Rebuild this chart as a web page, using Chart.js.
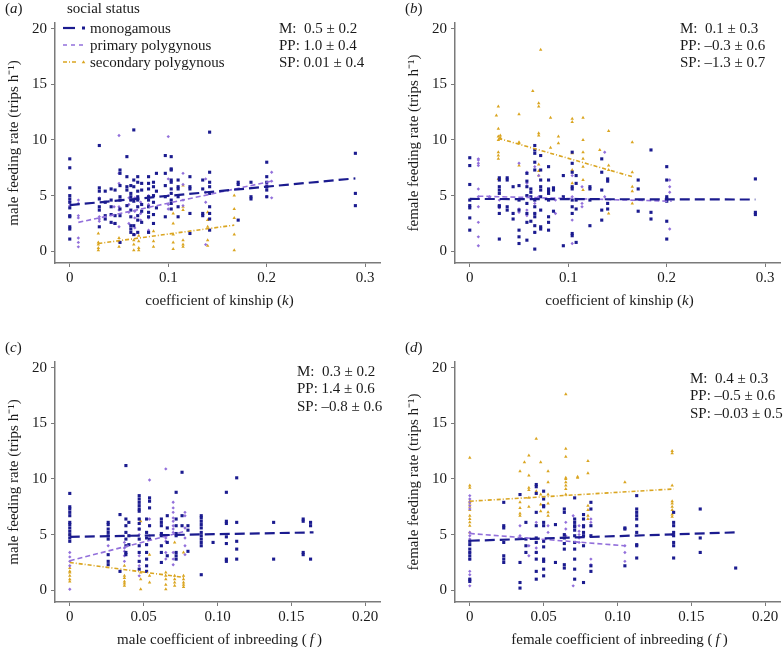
<!DOCTYPE html>
<html><head><meta charset="utf-8">
<script src="https://cdn.jsdelivr.net/npm/chart.js@4.4.1/dist/chart.umd.min.js"></script>
<style>
body{margin:0;width:784px;height:647px;position:relative;background:#fff;font-family:"Liberation Serif","Times New Roman",serif;color:#1a1a1a;overflow:hidden}
canvas{position:absolute}
.t{position:absolute;font-size:15px;line-height:17px;white-space:nowrap}
.c{transform:translateX(-50%)}
svg{position:absolute;left:0;top:0}
</style></head><body>
<canvas id="pa" width="384" height="323" style="left:0;top:0"></canvas>
<canvas id="pb" width="384" height="323" style="left:400px;top:0"></canvas>
<canvas id="pc" width="384" height="323" style="left:0;top:339px"></canvas>
<canvas id="pd" width="384" height="323" style="left:400px;top:339px"></canvas>

<div class="t" style="left:5px;top:0px">(<i>a</i>)</div>
<div class="t" style="left:405px;top:0px">(<i>b</i>)</div>
<div class="t" style="left:5px;top:339px">(<i>c</i>)</div>
<div class="t" style="left:405px;top:339px">(<i>d</i>)</div>

<div class="t" style="left:67px;top:0px">social status</div>
<svg width="100" height="80">
  <line x1="63" y1="28" x2="75" y2="28" stroke="#1b1b8f" stroke-width="2.2"/>
  <rect x="82" y="26.5" width="3" height="3" fill="#1b1b8f"/>
  <line x1="63" y1="45" x2="85" y2="45" stroke="#9370DB" stroke-width="1.5" stroke-dasharray="4,4"/>
  <line x1="63" y1="62" x2="78" y2="62" stroke="#DAA520" stroke-width="1.5" stroke-dasharray="4,2,1,2"/>
  <polygon points="83.5,60.3 85.3,63.2 81.7,63.2" fill="#DAA520"/>
</svg>
<div class="t" style="left:90px;top:19.5px">monogamous</div>
<div class="t" style="left:90px;top:36.5px">primary polygynous</div>
<div class="t" style="left:90px;top:53.5px">secondary polygynous</div>

<div class="t" style="left:279px;top:19.5px">M:&nbsp; 0.5 ± 0.2</div>
<div class="t" style="left:279px;top:36.5px">PP: 1.0 ± 0.4</div>
<div class="t" style="left:279px;top:53.5px">SP: 0.01 ± 0.4</div>

<div class="t" style="left:680px;top:19.5px">M:&nbsp; 0.1 ± 0.3</div>
<div class="t" style="left:680px;top:36.5px">PP: –0.3 ± 0.6</div>
<div class="t" style="left:680px;top:53.5px">SP: –1.3 ± 0.7</div>

<div class="t" style="left:297px;top:362.5px">M:&nbsp; 0.3 ± 0.2</div>
<div class="t" style="left:297px;top:379.5px">PP: 1.4 ± 0.6</div>
<div class="t" style="left:297px;top:397.5px">SP: –0.8 ± 0.6</div>

<div class="t" style="left:690px;top:369.5px">M:&nbsp; 0.4 ± 0.3</div>
<div class="t" style="left:690px;top:386.5px">PP: –0.5 ± 0.6</div>
<div class="t" style="left:690px;top:404.5px">SP: –0.03 ± 0.5</div>

<div class="t c" style="left:219.5px;top:291.5px">coefficient of kinship (<i>k</i>)</div>
<div class="t c" style="left:619.5px;top:291.5px">coefficient of kinship (<i>k</i>)</div>
<div class="t c" style="left:219.5px;top:630.5px">male coefficient of inbreeding (&#8201;<i>f</i>&#8201;)</div>
<div class="t c" style="left:619.5px;top:630.5px">female coefficient of inbreeding (&#8201;<i>f</i>&#8201;)</div>

<script>
// ---- tick values / labels ----
const kinTicks = [0, 0.1, 0.2, 0.3];
const kinTickLabels = ['0', '0.1', '0.2', '0.3'];
const inbTicks = [0, 0.05, 0.10, 0.15, 0.20];
const inbTickLabels = ['0', '0.05', '0.10', '0.15', '0.20'];
const rateTicks = [0, 5, 10, 15, 20];
const rateTickLabels = ['0', '5', '10', '15', '20'];
const seriesNames = ['monogamous', 'primary polygynous', 'secondary polygynous'];

// ---- (a) male feeding rate vs kinship: [x, [y values]] ----
const aMono = [[0,[8.3,7.5,5.7,5.0,4.7,4.4,3.9,3.2,3.1,2.2,2.0,1.1]],[0.03,[9.5,5.7,5.4,4.7,4.0,3.7,2.2]],[0.036,[5.4,4.4,3.2,2.9]],[0.042,[5.6,4.6,3.3,2.6,4.0]],[0.046,[5.5,3.2,2.5]],[0.051,[7.3,7.0,5.9,4.9,4.6,3.8,3.2,0.8]],[0.058,[8.5,6.7,5.8,5.5,4.1]],[0.062,[5.2,4.9,4.6,3.7,3.1,2.3,2.0,1.7,5.9]],[0.065,[10.9,6.4,5.8,4.5,2.3,1.5]],[0.069,[6.7,6.2,5.4,4.9,4.6,4.0,3.2,2.8,1.7]],[0.073,[6.1,5.5,4.2,3.6,2.6]],[0.08,[6.7,6.1,5.6,4.9,4.6,4.0,3.5,3.1,1.7]],[0.085,[6.2,5.8,5.0,4.4,3.3,2.5]],[0.088,[7.0,5.4,3.9]],[0.097,[8.6,7.0,5.9,4.9,3.1]],[0.103,[8.5,7.4,7.3,6.4,6.2,5.6,5.2,4.6,4.3,3.8]],[0.11,[6.4,5.8,5.6,4.9,4.0,3.1]],[0.122,[6.7,5.8,5.6,3.4,1.6]],[0.135,[6.4,5.6,3.4,3.2]],[0.142,[10.7,7.1,6.2,5.8,5.2,4.0,3.4,2.9,1.9]],[0.171,[6.2,6.0,2.8]],[0.184,[6.2,4.9,4.7]],[0.2,[8.0,6.7,6.2,5.8,5.5,4.9]],[0.29,[8.8,5.2,4.1]]];
const aPrim = [[0,[4.5,4.1]],[0.0087,[4.6,4.3,3.2,3.0,1.2,0.8,0.4]],[0.03,[4.8,3.1,2.9,2.7]],[0.045,[4.0,2.5]],[0.05,[10.4,7.0,6.1,4.0,3.7,2.2]],[0.06,[4.8,4.2,3.5,2.5]],[0.066,[4.8,3.6,3.0,2.1,1.5]],[0.072,[4.4,3.4,2.8]],[0.08,[5.0,4.2,3.0,1.9]],[0.1,[10.3,6.5,5.0,4.2,3.8]],[0.115,[7.0,6.0,4.6,4.1]],[0.138,[6.5,5.3,4.4,0.6]],[0.2,[6.0,5.7,4.9]],[0.205,[7.1,6.3,4.8]]];
const aSec = [[0.029,[1.6,0.8,0.6,0.3,0.1]],[0.05,[1.2,0.9,0.4]],[0.065,[1.5,1.0,0.6,0.1]],[0.07,[1.4,0.9,0.3,0.1]],[0.085,[1.8,0.9,0.4]],[0.105,[3.4,2.5,1.5,0.8,0.2]],[0.115,[5.9,4.0,3.7,1.0,0.6,0.4]],[0.14,[3.5,2.8,2.2,1.0,0.5]],[0.167,[5.0,3.8,3.0,1.5,0.1]]];
const aFit = [[[0,4.15],[0.29,6.55]],[[0.0087,2.6],[0.205,6.3]],[[0.029,0.7],[0.167,2.35]]];

// ---- (b) female feeding rate vs kinship ----
const bMono = [[0,[8.4,7.7,6.0,4.6,4.1,3.9,3.0,1.9]],[0.03,[6.6,6.4,5.8,5.5,5.2,4.1,4.0,3.4,1.1]],[0.038,[6.6,6.4,4.0,3.7]],[0.044,[5.8,3.4,2.9]],[0.05,[5.9,4.6,3.7,1.9,1.3,0.7]],[0.058,[7.0,6.3,5.8,5.0,4.3,3.4,2.6,1.0]],[0.062,[5.6,5.3,4.9,2.7]],[0.066,[9.5,9.1,8.8,8.0,7.3,4.6,4.0,3.4,3.1,2.3,1.7,0.2]],[0.072,[8.6,7.3,6.4,5.8,5.5,4.9,3.7,2.2,2.0]],[0.08,[7.6,6.4,5.6,5.4,5.2,4.6,3.1,2.6,1.9]],[0.085,[5.7,5.5,3.6]],[0.095,[6.8,4.9,0.5]],[0.104,[8.9,7.9,7.1,5.8,5.6,4.6,4.0,3.4,1.6,1.4]],[0.108,[6.8,6.1,4.6,3.8,0.8]],[0.122,[5.8,5.6,4.6,2.3]],[0.134,[8.3,7.1,5.5,3.7,2.8]],[0.14,[6.5,6.3,4.3,3.8]],[0.171,[6.4,5.6,3.6]],[0.184,[9.1,3.5,2.9]],[0.2,[7.6,6.4,4.9,4.7,4.5,2.7,1.1]],[0.29,[6.5,3.5,3.3]]];
const bPrim = [[0.0087,[8.3,8.2,7.9,7.7,5.6,4.9,4.0,2.6,1.3,0.5]],[0.02,[4.9,4.8]],[0.03,[4.6,3.9]],[0.05,[7.9,3.8,3.5]],[0.058,[7.1,6.1,5.0,3.7,3.2]],[0.066,[7.6,4.3,3.4,1.7]],[0.07,[6.8,4.9]],[0.087,[4.6,3.4]],[0.104,[6.8,4.9,2.8,0.7]],[0.114,[5.8,4.3,4.0]],[0.137,[8.9,4.9]],[0.203,[6.4,5.8,5.3,2.0]]];
const bSec = [[0.027,[12.2]],[0.029,[13.0,11.0,10.3,10.0,8.9,8.6,8.3,6.5]],[0.031,[10.4,10.2,10.1]],[0.05,[12.3,9.8,9.7,7.7]],[0.064,[14.4]],[0.07,[13.3,13.0,10.6,10.4,7.8,7.2,6.8]],[0.072,[18.1]],[0.082,[12.0,9.3]],[0.09,[10.3,9.7]],[0.104,[11.9,11.6,8.8,7.3,6.1]],[0.115,[12.0,10.0,8.9,8.3,7.6,6.4,5.5]],[0.132,[9.1]],[0.141,[10.8,7.7,7.3,3.4]],[0.165,[9.8,7.1,5.8,5.4,4.3]]];
const bFit = [[[0,4.7],[0.29,4.65]],[[0.0087,4.95],[0.205,4.5]],[[0.029,10.15],[0.165,6.7]]];

// ---- (c) male feeding rate vs male inbreeding ----
const cMono = [[0,[8.7,7.5,7.3,7.0,6.7,6.1,5.9,5.6,5.3,5.0,4.7,4.4]],[0.026,[6.1,5.9,5.5,5.2,4.9,4.6,3.2,2.6,2.3]],[0.034,[6.8,1.7]],[0.038,[11.2,6.4,5.8,5.2,4.6,4.0,3.4,3.2]],[0.04,[6.1,4.9,4.1]],[0.047,[8.5,8.2,7.9,7.6,7.3,7.1,6.4,6.0,5.5,4.6,4.0,3.4,2.6,1.9]],[0.052,[6.4,5.2,4.7,4.1,3.4,2.8,2.2,1.7]],[0.054,[8.3,8.0,7.4,5.8,4.6]],[0.062,[6.4,6.1,5.8,5.1,4.9,4.0,3.4,2.5]],[0.066,[6.7,5.6,4.3,3.1]],[0.072,[8.8,6.4,5.8,5.1,4.9,3.4,3.1,2.8]],[0.076,[10.6,6.7,5.8]],[0.08,[5.8,5.4,3.5]],[0.089,[6.7,6.5,6.2,5.9,5.6,5.2,4.9,4.6,4.3,4.0,1.4]],[0.097,[4.3]],[0.106,[8.8,6.2,6.0,4.8,4.2,2.8,2.6]],[0.113,[10.1,6.1,4.4,3.7,2.8]],[0.138,[6.1,2.8]],[0.158,[6.4,6.2,3.4,3.2]],[0.163,[6.1,5.8,2.8]]];
const cPrim = [[0,[3.4,3.0,2.6,2.2,0.1]],[0.026,[4.0]],[0.037,[4.3,3.8,3.5,3.1,2.6]],[0.047,[6.4,5.5,5.0,3.1,2.2,1.3]],[0.054,[9.9,6.4,5.8,4.9]],[0.065,[10.9,4.7,4.4,3.4,2.8]],[0.07,[7.9,7.4,7.0,6.5,6.2,5.8,5.5,5.2,3.4,2.8,2.3]],[0.078,[7.0,6.7,5.6,4.7,4.0,3.2]]];
const cSec = [[0,[5.0,2.0,1.7,1.6,1.3,1.0,0.8]],[0.037,[2.2,1.3,1.1,0.8,0.6,0.4]],[0.048,[6.2,1.6,1.0,0.1]],[0.054,[3.2,1.3,0.7]],[0.065,[1.6,1.3,1.0,0.5,0.1]],[0.071,[4.3,1.3,1.0,0.7,0.4]],[0.077,[3.4,1.3,1.0,0.7,0.5,0.3]]];
const cFit = [[[0,4.8],[0.165,5.2]],[[0,2.65],[0.078,5.3]],[[0,2.5],[0.078,1.15]]];

// ---- (d) female feeding rate vs female inbreeding ----
const dMono = [[0,[4.4,4.1,3.7,3.4,3.1,2.8,1.0,0.8]],[0.023,[7.9,5.8,5.6,4.3,3.1,2.8,2.5]],[0.034,[8.6,2.5,0.7,0.2]],[0.038,[6.1,4.6,4.0,3.4]],[0.045,[9.5,9.3,8.7,7.0,5.8,4.7,4.3,3.4,2.8,1.7,1.0]],[0.05,[8.9,8.2,7.6,7.5,6.1,5.8,4.4,3.9,2.8,2.6,1.9,1.3]],[0.058,[5.9,2.5]],[0.064,[7.3,7.0,5.0,4.7,4.2,3.7,2.3,2.0]],[0.071,[8.3,6.4,6.1,5.8,5.7,5.4,4.9,4.3,3.7,2.8,1.9,1.0]],[0.077,[6.8,6.4,5.8,5.7,5.2,4.9,4.0,0.7]],[0.082,[7.9,7.3,5.8,4.9,2.2,1.7]],[0.105,[5.6,5.5,2.2]],[0.113,[8.5,7.3,7.0,6.7,6.4,5.8,5.2,4.1,4.0,2.9]],[0.138,[7.0,6.1,5.8,5.2,4.9,4.3,4.0,2.9]],[0.156,[7.3,4.7,3.4]],[0.18,[2.0]]];
const dPrim = [[0,[8.5,8.2,7.9,7.6,7.3,5.2,4.9,4.6,3.4,2.8,1.7,1.4,1.0,0.4]],[0.034,[5.8,4.9]],[0.04,[4.0,3.1]],[0.045,[6.1,3.8,3.4]],[0.053,[5.8,5.2]],[0.065,[6.1,5.5,4.9]],[0.07,[6.7,0.4]],[0.074,[5.8,5.3,5.0,4.7,4.3]],[0.082,[6.4,6.1,2.8,2.3]],[0.105,[4.0,3.4,2.6]],[0.137,[5.0]]];
const dSec = [[0,[11.9,9.4,9.2,8.0,7.8,7.5,7.2,6.7,6.4,6.1,5.8,5.2]],[0.034,[10.7,7.9,7.4,6.9,6.7]],[0.037,[11.5]],[0.04,[12.1,10.3,9.2,9.0,8.3,7.5]],[0.045,[13.6,8.9]],[0.048,[11.5,8.6,7.7,7.1]],[0.053,[10.7,9.7,8.6,7.8,7.0,6.7]],[0.065,[17.6,12.7,12.0,10.1,10.0,9.7,9.4,9.1,8.6]],[0.073,[10.2,10.1]],[0.08,[11.6,10.5,7.6,7.2,6.7,6.4]],[0.105,[9.7]],[0.137,[12.5,12.3,9.4,8.0,7.8,7.5,7.2,6.8,6.6]]];
const dFit = [[[0,4.45],[0.18,5.2]],[[0,5.1],[0.105,4.0]],[[0,8.0],[0.138,9.1]]];

// ---- styling ----
const NAVY = '#1b1b8f', PURPLE = '#9370DB', GOLD = '#DAA520', AXIS = '#7a7a7a';
const FONT = {family: "'Liberation Serif','Times New Roman',serif", size: 15};
const pointStyles = [
  {pointStyle: 'rect', pointRadius: 2.2, color: NAVY},
  {pointStyle: 'rectRot', pointRadius: 1.7, color: PURPLE},
  {pointStyle: 'triangle', pointRadius: 2.0, color: GOLD}
];
const lineStyles = [
  {color: NAVY, width: 2.2, dash: [10, 5]},
  {color: PURPLE, width: 1.6, dash: [5, 3]},
  {color: GOLD, width: 1.6, dash: [4, 2, 1, 2]}
];

function toPoints(groups) {
  const pts = [];
  groups.forEach(([x, ys]) => ys.forEach(y => pts.push({x: x, y: y})));
  return pts;
}

function makePanel(id, groups, fits, xMin, xMax, xTicks, xLabels, yTitle) {
  const datasets = [];
  fits.forEach((f, i) => {
    const s = lineStyles[i];
    datasets.push({label: seriesNames[i] + ' fit', data: f.map(p => ({x: p[0], y: p[1]})),
      showLine: true, pointRadius: 0, borderColor: s.color, borderWidth: s.width,
      borderDash: s.dash, fill: false});
  });
  groups.forEach((g, i) => {
    const s = pointStyles[i];
    datasets.push({label: seriesNames[i], data: toPoints(g), showLine: false,
      pointStyle: s.pointStyle, pointRadius: s.pointRadius, pointBorderWidth: 0,
      backgroundColor: s.color, borderColor: s.color});
  });
  new Chart(document.getElementById(id), {
    type: 'scatter',
    data: {datasets: datasets},
    options: {
      responsive: false, animation: false, devicePixelRatio: 1,
      layout: {padding: {top: 23, left: 0, right: 0, bottom: 0}},
      plugins: {legend: {display: false}, tooltip: {enabled: false}},
      scales: {
        x: {
          type: 'linear', min: xMin, max: xMax,
          afterBuildTicks: s => { s.ticks = xTicks.map(v => ({value: v})); },
          afterFit: s => { s.height = 60; },
          ticks: {callback: (v, i) => xLabels[i], font: FONT, color: '#1a1a1a', padding: 2, maxRotation: 0, autoSkip: false},
          grid: {display: true, drawOnChartArea: false, drawTicks: true, tickLength: 4, color: AXIS, lineWidth: 1},
          border: {display: true, color: AXIS, width: 1.5}
        },
        y: {
          type: 'linear', min: -1.05, max: 20.5,
          afterBuildTicks: s => { s.ticks = rateTicks.map(v => ({value: v})); },
          afterFit: s => { s.width = 55; },
          ticks: {callback: (v, i) => rateTickLabels[i], font: FONT, color: '#1a1a1a', padding: 4},
          grid: {display: true, drawOnChartArea: false, drawTicks: true, tickLength: 4, color: AXIS, lineWidth: 1},
          border: {display: true, color: AXIS, width: 1.5},
          title: {display: true, text: yTitle, font: FONT, color: '#1a1a1a', padding: {top: 5, bottom: 0}}
        }
      }
    }
  });
}

makePanel('pa', [aMono, aPrim, aSec], aFit, -0.015, 0.315, kinTicks, kinTickLabels, 'male feeding rate (trips h⁻¹)');
makePanel('pb', [bMono, bPrim, bSec], bFit, -0.015, 0.315, kinTicks, kinTickLabels, 'female feeding rate (trips h⁻¹)');
makePanel('pc', [cMono, cPrim, cSec], cFit, -0.01, 0.21, inbTicks, inbTickLabels, 'male feeding rate (trips h⁻¹)');
makePanel('pd', [dMono, dPrim, dSec], dFit, -0.01, 0.21, inbTicks, inbTickLabels, 'female feeding rate (trips h⁻¹)');
</script>
</body></html>
